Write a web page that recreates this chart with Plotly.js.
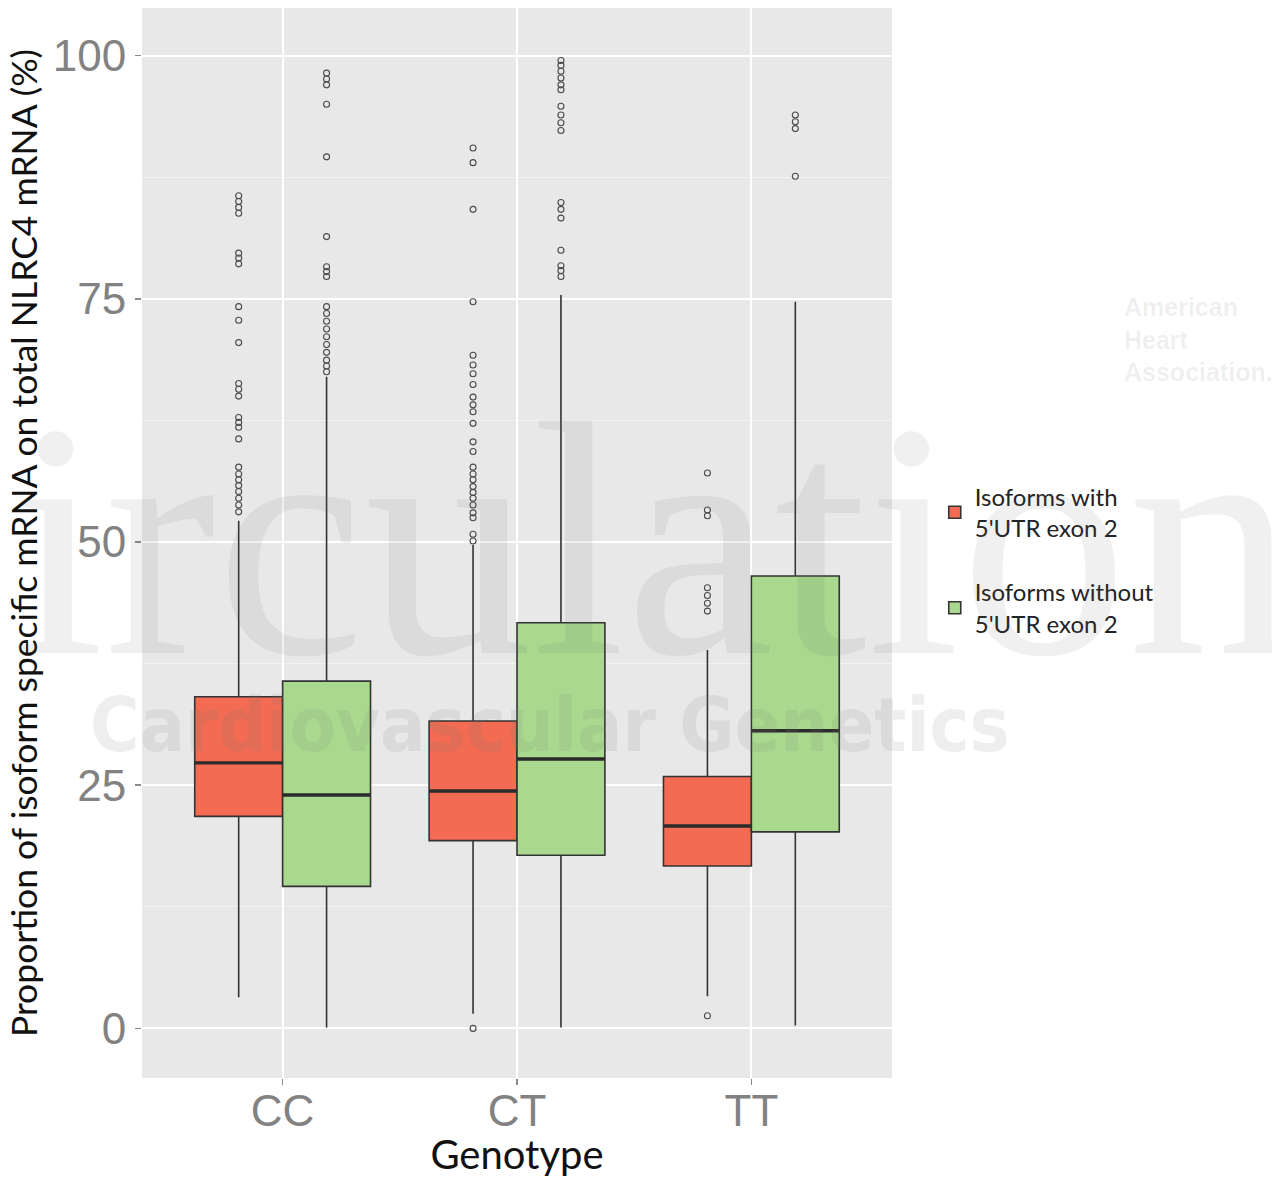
<!DOCTYPE html>
<html>
<head>
<meta charset="utf-8">
<script src="https://cdn.plot.ly/plotly-3.0.1.min.js"></script>
<style>
  html, body { margin: 0; padding: 0; background: #ffffff; }
  #chart { width: 1272px; height: 1178px; }
</style>
</head>
<body>
<div id="chart"></div>
<script>
// Genotype groups on the x axis
const genotypes = ['CC', 'CT', 'TT'];

// Isoforms with 5'UTR exon 2: box statistics per genotype (%)
const withLower  = [3.2, 1.5, 3.3];
const withQ1     = [21.8, 19.3, 16.7];
const withMedian = [27.3, 24.4, 20.8];
const withQ3     = [34.1, 31.6, 25.9];
const withUpper  = [52.2, 49.7, 38.9];

// Isoforms without 5'UTR exon 2: box statistics per genotype (%)
const withoutLower  = [0.1, 0.1, 0.3];
const withoutQ1     = [14.6, 17.8, 20.2];
const withoutMedian = [24.0, 27.7, 30.6];
const withoutQ3     = [35.7, 41.7, 46.5];
const withoutUpper  = [67.0, 75.4, 74.7];

// Outlying observations (%)
const withOutliersCC = [85.6, 85.0, 84.4, 83.8, 79.7, 79.2, 78.6, 74.2, 72.8, 70.5,
  66.3, 65.7, 65.0, 62.8, 62.3, 61.8, 60.6, 57.7, 57.0, 56.4, 55.8, 55.2, 54.5, 53.8, 53.1];
const withOutliersCT = [90.5, 89.0, 84.2, 74.7, 69.2, 68.2, 67.3, 66.2, 64.9, 64.1, 63.4,
  62.2, 60.3, 59.3, 57.7, 57.0, 56.4, 55.7, 55.1, 54.5, 53.8, 53.0, 52.5, 50.8, 50.1, 0.0];
const withOutliersTT = [57.1, 53.3, 52.7, 45.3, 44.5, 43.7, 42.9, 1.3];

const withoutOutliersCC = [98.2, 97.6, 97.0, 95.0, 89.6, 81.4, 78.3, 77.8, 77.3, 74.2,
  73.5, 72.7, 71.9, 71.1, 70.3, 69.5, 68.7, 68.1, 67.5];
const withoutOutliersCT = [99.5, 99.0, 98.4, 97.7, 97.0, 96.5, 94.8, 93.9, 93.1, 92.3,
  84.9, 84.2, 83.3, 80.0, 78.4, 77.9, 77.3];
const withoutOutliersTT = [93.9, 93.2, 92.5, 87.6];

const seriesNames = ['Isoforms with<br>5\'UTR exon 2', 'Isoforms without<br>5\'UTR exon 2'];

// Side-by-side placement of the two boxes within each genotype
const BOX_WIDTH = 0.375;
const DODGE = BOX_WIDTH / 2;
const RED = '#f26b52';
const GREEN = '#a8d98e';
const EDGE = '#333333';

function boxTrace(name, group, color, shift, lower, q1, med, q3, upper) {
  return {
    type: 'box',
    name: name,
    legendgroup: group,
    x: genotypes.map((g, i) => i + shift),
    lowerfence: lower,
    q1: q1,
    median: med,
    q3: q3,
    upperfence: upper,
    width: BOX_WIDTH,
    boxpoints: false,
    fillcolor: color,
    line: { color: EDGE, width: 1.6 },
    whiskerwidth: 0,
    hoverinfo: 'y'
  };
}

// Heavier median bar drawn over each box
function medianTrace(group, shift, med) {
  return {
    type: 'box',
    legendgroup: group,
    showlegend: false,
    x: genotypes.map((g, i) => i + shift),
    lowerfence: med,
    q1: med,
    median: med,
    q3: med,
    upperfence: med,
    width: BOX_WIDTH,
    boxpoints: false,
    fillcolor: 'rgba(0,0,0,0)',
    line: { color: '#2b2b2b', width: 3.4 },
    whiskerwidth: 0,
    hoverinfo: 'skip'
  };
}

function outlierTrace(groups, shift) {
  const xs = [], ys = [];
  groups.forEach((vals, i) => {
    vals.forEach(v => { xs.push(i + shift); ys.push(v); });
  });
  return {
    type: 'scatter',
    mode: 'markers',
    x: xs,
    y: ys,
    showlegend: false,
    hoverinfo: 'y',
    marker: { symbol: 'circle-open', size: 6, color: '#4a4a4a', line: { width: 1.1, color: '#4a4a4a' } }
  };
}

const data = [
  boxTrace(seriesNames[0], 'with', RED, -DODGE, withLower, withQ1, withMedian, withQ3, withUpper),
  boxTrace(seriesNames[1], 'without', GREEN, DODGE, withoutLower, withoutQ1, withoutMedian, withoutQ3, withoutUpper),
  medianTrace('with', -DODGE, withMedian),
  medianTrace('without', DODGE, withoutMedian),
  outlierTrace([withOutliersCC, withOutliersCT, withOutliersTT], -DODGE),
  outlierTrace([withoutOutliersCC, withoutOutliersCT, withoutOutliersTT], DODGE)
];

const tickFont = { family: 'Liberation Sans, Arial, sans-serif', size: 44, color: '#828282' };
const titleFamily = 'Lato, "Open Sans", sans-serif';

const layout = {
  width: 1272,
  height: 1178,
  margin: { l: 142, r: 380, t: 8, b: 100 },
  paper_bgcolor: '#ffffff',
  plot_bgcolor: '#e8e8e8',
  showlegend: true,
  boxmode: 'overlay',
  xaxis: {
    range: [-0.6, 2.6],
    tickvals: [0, 1, 2],
    ticktext: genotypes,
    showgrid: true,
    gridcolor: '#ffffff',
    gridwidth: 2,
    zeroline: false,
    showline: false,
    ticks: 'outside',
    ticklen: 6,
    tickwidth: 1.5,
    tickcolor: '#8a8a8a',
    tickfont: tickFont,
    ticklabelstandoff: -12,
    title: { text: 'Genotype', font: { family: titleFamily, size: 40, color: '#111111' }, standoff: 0 }
  },
  yaxis: {
    range: [-5.1, 104.9],
    tickvals: [0, 25, 50, 75, 100],
    showgrid: true,
    gridcolor: '#ffffff',
    gridwidth: 2,
    minor: { tickvals: [12.5, 37.5, 62.5, 87.5], showgrid: true, gridcolor: '#f3f3f3', gridwidth: 1, ticks: '' },
    zeroline: false,
    showline: false,
    ticks: 'outside',
    ticklen: 6,
    tickwidth: 1.5,
    tickcolor: '#8a8a8a',
    tickfont: tickFont,
    title: {
      text: 'Proportion of isoform specific mRNA on total NLRC4 mRNA (%)',
      font: { family: titleFamily, size: 35.5, color: '#111111' },
      standoff: 4
    }
  },
  legend: {
    x: 1.057,
    xanchor: 'left',
    y: 0.484,
    yanchor: 'middle',
    font: { family: titleFamily, size: 24, color: '#222222' },
    tracegroupgap: 30,
    bgcolor: 'rgba(0,0,0,0)'
  },
  annotations: [
    {
      text: 'Circulation',
      xref: 'paper', yref: 'paper',
      x: 0.533, y: 0.503, xanchor: 'center', yanchor: 'middle',
      showarrow: false,
      font: { family: 'Liberation Serif, "DejaVu Serif", serif', size: 335, color: 'rgba(110,110,110,0.10)' }
    },
    {
      text: '<b>Cardiovascular Genetics</b>',
      xref: 'paper', yref: 'paper',
      x: 0.544, y: 0.33, xanchor: 'center', yanchor: 'middle',
      showarrow: false,
      font: { family: '"Liberation Sans Narrow", "DejaVu Sans Condensed", sans-serif', size: 75, color: 'rgba(120,120,120,0.13)' }
    },
    {
      text: '<b>American<br>Heart<br>Association.</b>',
      xref: 'paper', yref: 'paper',
      x: (1122 - 142) / 750, y: (1078 - 340) / 1070, xanchor: 'left', yanchor: 'middle',
      align: 'left',
      showarrow: false,
      font: { family: 'Liberation Sans, Arial, sans-serif', size: 25, color: 'rgba(0,0,0,0.07)' }
    }
  ]
};

Plotly.newPlot('chart', data, layout, { displayModeBar: false, staticPlot: true });
</script>
</body>
</html>
